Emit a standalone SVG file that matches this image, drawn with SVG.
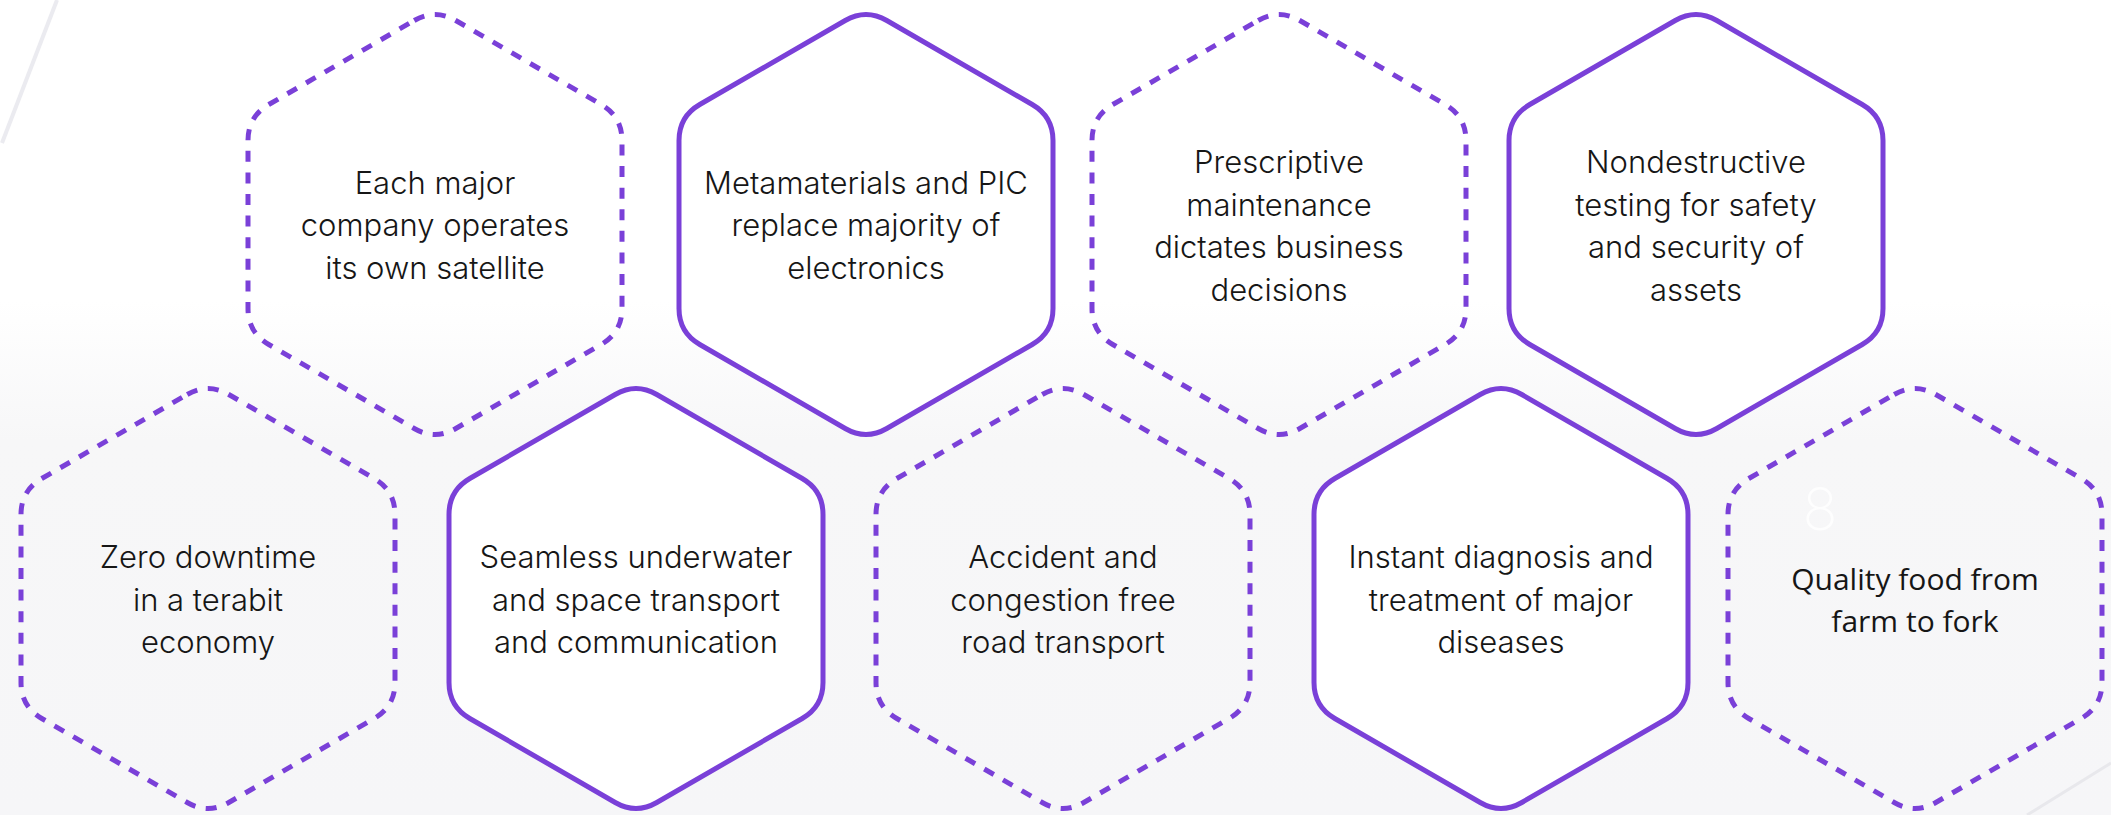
<svg xmlns="http://www.w3.org/2000/svg" xmlns:xlink="http://www.w3.org/1999/xlink" width="2111" height="815" viewBox="0 0 2111 815">
  <defs>
    <linearGradient id="bg" x1="0" y1="0" x2="0" y2="815" gradientUnits="userSpaceOnUse">
      <stop offset="0" stop-color="#ffffff"/>
      <stop offset="0.37" stop-color="#ffffff"/>
      <stop offset="0.54" stop-color="#f7f7f8"/>
      <stop offset="1" stop-color="#f6f6f8"/>
    </linearGradient>
    <path id="hex" d="M -20.78,-204 Q 0,-216 20.78,-204 L 166.22,-120 Q 187,-108 187,-84 L 187,84 Q 187,108 166.22,120 L 20.78,204 Q 0,216 -20.78,204 L -166.22,120 Q -187,108 -187,84 L -187,-84 Q -187,-108 -166.22,-120 Z"/>
  </defs>
  <style>
    .solid { fill: #ffffff; stroke: #7a40d8; stroke-width: 5; }
    .dashed { fill: none; stroke: #7a40d8; stroke-width: 5; stroke-dasharray: 11 10.6; }
    .label { font-family: Inter, "Liberation Sans", sans-serif; font-size: 31px; font-weight: 300; fill: #161616; text-anchor: middle; }
    .label2 { font-family: "Open Sans", "Liberation Sans", sans-serif; font-size: 30px; font-weight: 400; fill: #161616; text-anchor: middle; }
  </style>
  <rect x="0" y="0" width="2111" height="815" fill="url(#bg)"/>
  <line x1="57" y1="0" x2="2" y2="143" stroke="#ebebf0" stroke-width="4"/>
  <line x1="2111" y1="763" x2="2027" y2="815" stroke="#e8e8ec" stroke-width="3"/>
  <text x="1820" y="530" font-family="Inter, 'Liberation Sans', sans-serif" font-size="58" font-weight="200" fill="#ffffff" fill-opacity="0.8" text-anchor="middle">8</text>

  <g id="connectors"></g>

  <g id="node-satellite">
    <use xlink:href="#hex" href="#hex" class="dashed" x="435" y="224.5"/>
    <text class="label"><tspan x="435" y="193.5">Each major</tspan><tspan x="435" y="236">company operates</tspan><tspan x="435" y="278.5">its own satellite</tspan></text>
  </g>
  <g id="node-metamaterials">
    <use xlink:href="#hex" href="#hex" class="solid" x="866" y="224.5"/>
    <text class="label"><tspan x="866" y="193.5">Metamaterials and PIC</tspan><tspan x="866" y="236">replace majority of</tspan><tspan x="866" y="278.5">electronics</tspan></text>
  </g>
  <g id="node-prescriptive">
    <use xlink:href="#hex" href="#hex" class="dashed" x="1279" y="224.5"/>
    <text class="label"><tspan x="1279" y="173">Prescriptive</tspan><tspan x="1279" y="215.5">maintenance</tspan><tspan x="1279" y="258">dictates business</tspan><tspan x="1279" y="300.5">decisions</tspan></text>
  </g>
  <g id="node-nondestructive">
    <use xlink:href="#hex" href="#hex" class="solid" x="1696" y="224.5"/>
    <text class="label"><tspan x="1696" y="173">Nondestructive</tspan><tspan x="1696" y="215.5">testing for safety</tspan><tspan x="1696" y="258">and security of</tspan><tspan x="1696" y="300.5">assets</tspan></text>
  </g>

  <g id="node-zero-downtime">
    <use xlink:href="#hex" href="#hex" class="dashed" x="208" y="598.5"/>
    <text class="label"><tspan x="208" y="568">Zero downtime</tspan><tspan x="208" y="610.5">in a terabit</tspan><tspan x="208" y="653">economy</tspan></text>
  </g>
  <g id="node-seamless">
    <use xlink:href="#hex" href="#hex" class="solid" x="636" y="598.5"/>
    <text class="label"><tspan x="636" y="568">Seamless underwater</tspan><tspan x="636" y="610.5">and space transport</tspan><tspan x="636" y="653">and communication</tspan></text>
  </g>
  <g id="node-accident">
    <use xlink:href="#hex" href="#hex" class="dashed" x="1063" y="598.5"/>
    <text class="label"><tspan x="1063" y="568">Accident and</tspan><tspan x="1063" y="610.5">congestion free</tspan><tspan x="1063" y="653">road transport</tspan></text>
  </g>
  <g id="node-diagnosis">
    <use xlink:href="#hex" href="#hex" class="solid" x="1501" y="598.5"/>
    <text class="label"><tspan x="1501" y="568">Instant diagnosis and</tspan><tspan x="1501" y="610.5">treatment of major</tspan><tspan x="1501" y="653">diseases</tspan></text>
  </g>
  <g id="node-food">
    <use xlink:href="#hex" href="#hex" class="dashed" x="1915" y="598.5"/>
    <text class="label2"><tspan x="1915" y="590">Quality food from</tspan><tspan x="1915" y="632">farm to fork</tspan></text>
  </g>
</svg>
